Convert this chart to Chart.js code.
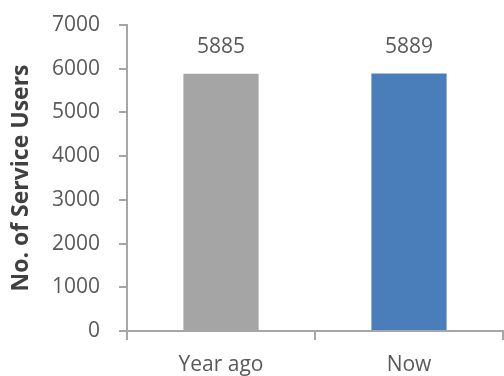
<!DOCTYPE html>
<html>
<head>
<meta charset="utf-8">
<script src="https://cdn.jsdelivr.net/npm/chart.js@4.4.0/dist/chart.umd.min.js"></script>
<style>
  html, body { margin: 0; padding: 0; background: #fff; }
  #wrap { position: relative; width: 504px; height: 376px; }
</style>
</head>
<body>
<div id="wrap"><canvas id="c"></canvas></div>
<script>
// chart data
var categories = ['Year ago', 'Now'];
var serviceUsers = [5885, 5889];
var barColors = ['#a5a5a5', '#4a7ebb'];
var yTicks = [0, 1000, 2000, 3000, 4000, 5000, 6000, 7000];

var axisGrey = '#a6a6a6';
var textGrey = '#595959';
var fontFamily = '"Open Sans", "Liberation Sans", sans-serif';

// value labels above each bar
var barLabels = {
  id: 'barLabels',
  afterDatasetsDraw: function(chart) {
    var ctx = chart.ctx;
    var meta = chart.getDatasetMeta(0);
    ctx.save();
    ctx.font = '21px ' + fontFamily;
    ctx.fillStyle = textGrey;
    ctx.textAlign = 'center';
    ctx.textBaseline = 'middle';
    meta.data.forEach(function(bar, i) {
      ctx.fillText(String(serviceUsers[i]), bar.x, bar.y - 27);
    });
    ctx.restore();
  }
};

new Chart(document.getElementById('c').getContext('2d'), {
  type: 'bar',
  data: {
    labels: categories,
    datasets: [{ data: serviceUsers, backgroundColor: barColors, barPercentage: 0.8, categoryPercentage: 0.5 }]
  },
  options: {
    responsive: true,
    maintainAspectRatio: false,
    animation: false,
    layout: { padding: { top: 25, right: 1, left: 0, bottom: 0 } },
    plugins: { legend: { display: false }, tooltip: { enabled: false } },
    scales: {
      x: {
        offset: true,
        grid: { offset: true, drawOnChartArea: false, drawTicks: true, tickLength: 9, color: axisGrey, lineWidth: 2 },
        border: { color: axisGrey, width: 2 },
        ticks: { color: textGrey, font: { family: fontFamily, size: 21 }, padding: 12 },
        afterFit: function(scale) { scale.height = 45; }
      },
      y: {
        min: 0,
        max: 7000,
        afterBuildTicks: function(scale) { scale.ticks = yTicks.map(function(v) { return { value: v }; }); },
        grid: { drawOnChartArea: false, drawTicks: true, tickLength: 8, color: axisGrey, lineWidth: 2 },
        border: { color: axisGrey, width: 2 },
        ticks: {
          color: textGrey,
          font: { family: fontFamily, size: 21 },
          padding: 19,
          callback: function(v) { return String(v); }
        },
        title: {
          display: true,
          text: 'No. of Service Users',
          color: '#404040',
          font: { family: fontFamily, size: 23, weight: 'bold' },
          padding: { top: 8, bottom: 0 }
        },
        afterFit: function(scale) { scale.width = 127; scale.paddingTop = 0; }
      }
    }
  },
  plugins: [barLabels]
});
</script>
</body>
</html>
